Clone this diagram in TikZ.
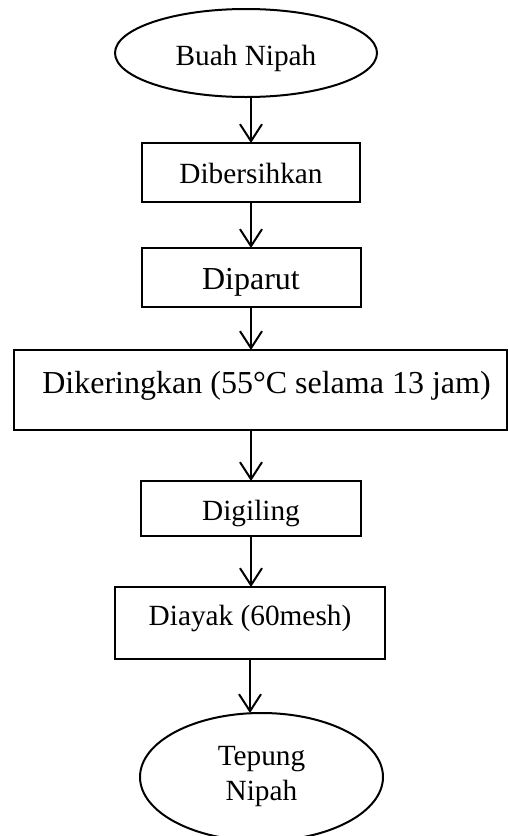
\documentclass[tikz,border=0pt]{standalone}
\usepackage{fontspec}
\setmainfont{Liberation Serif}
\usetikzlibrary{shapes.geometric,arrows.meta}
\begin{document}
\begin{tikzpicture}[x=1pt,y=-1pt,
  every node/.style={inner sep=0pt,outer sep=0pt,line width=2pt,font=\fontsize{29.3pt}{35pt}\selectfont},
  procbox/.style={draw,rectangle},
  bigtext/.style={font=\fontsize{32pt}{38pt}\selectfont},
  termnode/.style={draw,ellipse,align=center},
  arr/.style={line width=2pt,-{Straight Barb[length=17pt,width=22pt]}}]
\useasboundingbox (0,0) rectangle (508,836);
\node[termnode,minimum width=262pt,minimum height=88pt,text height=24pt,text depth=0pt] (e1) at (246,53) {Buah Nipah};
\node[procbox,minimum width=218pt,minimum height=59pt,text height=21pt,text depth=0pt] (b1) at (251,172.5) {Dibersihkan};
\node[procbox,bigtext,minimum width=219pt,minimum height=59pt,text height=23pt,text depth=0pt] (b2) at (251,277.5) {Diparut};
\node[procbox,bigtext,minimum width=493pt,minimum height=80pt,text height=22pt,text depth=16pt] (b3) at (260.5,390) {\hspace*{12pt}Dikeringkan (55°C selama 13 jam)};
\node[procbox,minimum width=220pt,minimum height=55pt,text height=23pt,text depth=0pt] (b4) at (251,508.5) {Digiling};
\node[procbox,minimum width=270pt,minimum height=72pt,text height=22pt,text depth=18pt] (b5) at (250,623) {Diayak (60mesh)};
\node[termnode,minimum width=243pt,minimum height=128pt] (e2) at (261.5,777) {Tepung\\Nipah};
\draw[arr] (e1.south -| b1.north) -- (b1.north);
\draw[arr] (b1.south) -- (b2.north);
\draw[arr] (b2.south) -- (b2.south |- b3.north);
\draw[arr] (b3.south -| b4.north) -- (b4.north);
\draw[arr] (b4.south) -- (b4.south |- b5.north);
\draw[arr] (b5.south) -- (b5.south |- e2.north);
\end{tikzpicture}
\end{document}
